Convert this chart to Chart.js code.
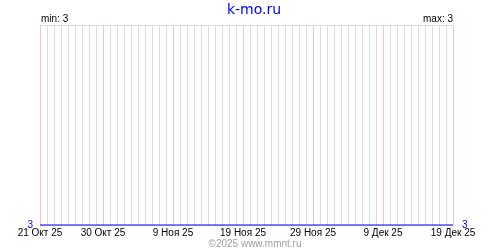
<!DOCTYPE html>
<html>
<head>
<meta charset="utf-8">
<script src="https://cdn.jsdelivr.net/npm/chart.js@4"></script>
<style>
  html, body { margin: 0; padding: 0; background: #fff; }
  #wrap { width: 500px; height: 250px; }
</style>
</head>
<body>
<div id="wrap"><canvas id="kmoChart" width="500" height="250"></canvas></div>
<script>
    // one value per day, 21 Oct 25 .. 19 Dec 25
    const values = [
      3, 3, 3, 3, 3, 3, 3, 3, 3, 3,
      3, 3, 3, 3, 3, 3, 3, 3, 3, 3,
      3, 3, 3, 3, 3, 3, 3, 3, 3, 3,
      3, 3, 3, 3, 3, 3, 3, 3, 3, 3,
      3, 3, 3, 3, 3, 3, 3, 3, 3, 3,
      3, 3, 3, 3, 3, 3, 3, 3, 3, 3
    ];
    const tickDays = [0, 9, 19, 29, 39, 49, 59];
    const tickLabels = ['21 Окт 25', '30 Окт 25', '9 Ноя 25', '19 Ноя 25', '29 Ноя 25', '9 Дек 25', '19 Дек 25'];
    const title = 'k-mo.ru';
    const footer = '©2025 www.mmnt.ru';

    const minVal = Math.min(...values);
    const maxVal = Math.max(...values);

    Chart.defaults.font.family = 'Liberation Sans';
    Chart.defaults.font.size = 10;
    Chart.defaults.color = '#000';

    const textPlugin = {
      id: 'texts',
      afterDraw(chart) {
        const c = chart.ctx;
        const area = chart.chartArea;
        c.save();
        c.textBaseline = 'alphabetic';
        c.font = '14px "DejaVu Sans"';
        c.fillStyle = '#0000ff';
        c.textAlign = 'center';
        c.fillText(title, 254, 14);
        c.font = '10px "Liberation Sans"';
        c.fillStyle = '#000';
        c.textAlign = 'left';
        c.fillText('min: ' + minVal, area.left + 1, 22);
        c.textAlign = 'right';
        c.fillText('max: ' + maxVal, area.right, 22);
        c.fillStyle = '#a0a0a0';
        c.textAlign = 'center';
        c.fillText(footer, 255, 247);
        c.restore();
      }
    };

    const ctx = document.getElementById('kmoChart').getContext('2d');
    const kmoChart = new Chart(ctx, {
      type: 'line',
      data: {
        datasets: [{
          data: values.map((v, i) => ({ x: i, y: v })),
          borderColor: '#0000ff',
          borderWidth: 1,
          pointRadius: 0,
          tension: 0,
          clip: false,
        }]
      },
      options: {
        responsive: false,
        animation: false,
        layout: { padding: { top: 25, left: 0, right: 0, bottom: 0 } },
        plugins: {
          legend: { display: false },
          tooltip: { enabled: false },
        },
        scales: {
          x: {
            type: 'linear',
            min: 0,
            max: values.length - 1,
            afterFit: (scale) => { scale.height = 25; },
            border: { display: false },
            grid: {
              drawTicks: false,
              color: (c) => tickDays.includes(c.index) ? '#ffc0c0' : '#dcdcdc',
            },
            ticks: {
              stepSize: 1,
              maxTicksLimit: 100,
              autoSkip: false,
              maxRotation: 0,
              padding: 2,
              callback: (v) => {
                const k = tickDays.indexOf(Math.round(v));
                return k >= 0 ? tickLabels[k] : '';
              },
            },
          },
          y: {
            position: 'left',
            min: minVal,
            max: minVal + 1,
            afterFit: (scale) => { scale.width = 40; },
            border: { display: false },
            grid: { drawTicks: false, color: '#dcdcdc' },
            ticks: {
              stepSize: 1,
              padding: 7,
              color: '#0000ff',
              callback: (v) => v === minVal ? String(v) : '',
            },
          },
          y2: {
            position: 'right',
            min: minVal,
            max: minVal + 1,
            afterFit: (scale) => { scale.width = 47; },
            border: { display: false },
            grid: { display: false, drawTicks: false },
            ticks: {
              stepSize: 1,
              padding: 9,
              color: '#0000ff',
              callback: (v) => v === minVal ? String(v) : '',
            },
          },
        },
      },
      plugins: [textPlugin],
    });
</script>
</body>
</html>
